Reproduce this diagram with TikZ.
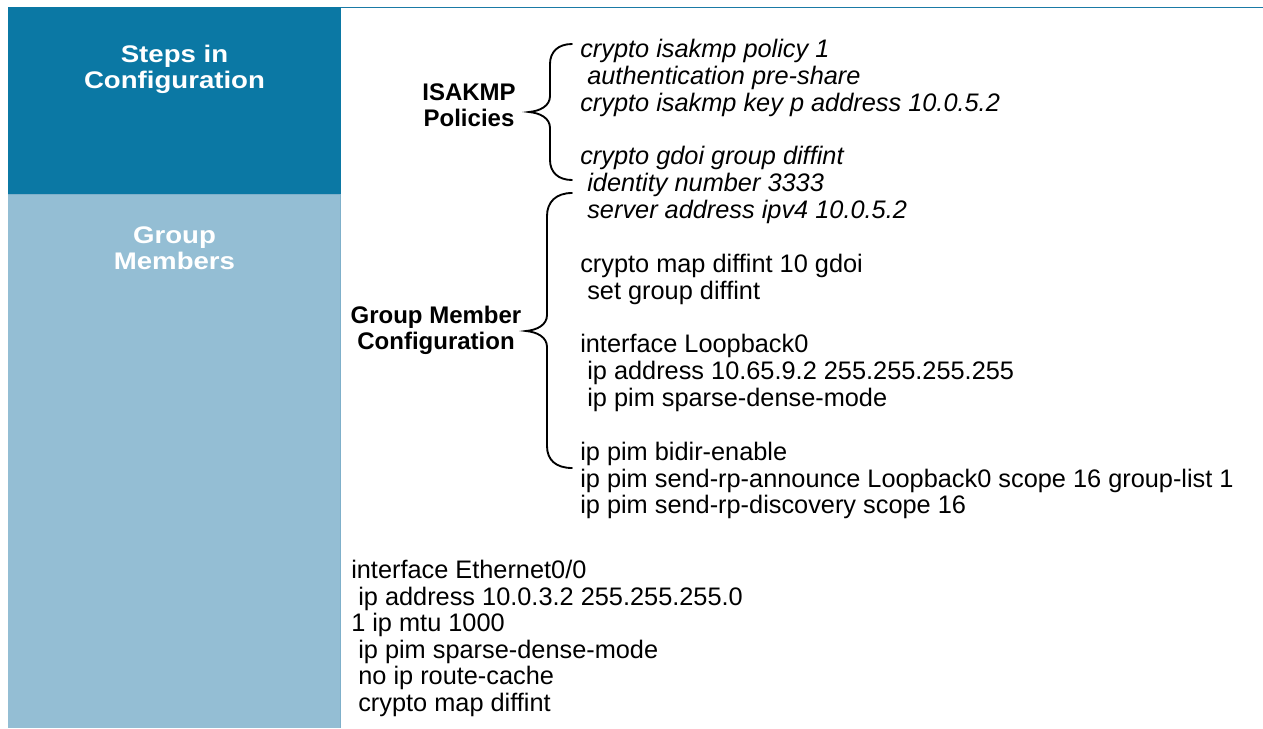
\documentclass[tikz,border=0pt]{standalone}
\usepackage{fontspec}
\setmainfont{Liberation Sans}
\newfontfamily\headfont[FakeStretch=1.15]{Liberation Sans}
\definecolor{darkblue}{HTML}{0B78A4}
\definecolor{lightblue}{HTML}{94BED4}
\definecolor{lightedge}{HTML}{7FB0CA}
\definecolor{topline}{HTML}{1A7AA6}
\tikzset{
  code/.style={anchor=base west, inner sep=0pt, font=\fontsize{19}{20}\selectfont},
  icode/.style={code, font=\fontsize{19}{20}\selectfont\itshape},
  head/.style={anchor=base, inner sep=0pt, text=white, font=\headfont\bfseries\fontsize{18}{20}\selectfont},
  lab/.style={anchor=base, inner sep=0pt, font=\bfseries\fontsize{18}{20}\selectfont},
  bracepath/.style={line width=1.4pt, line cap=round}
}
\newcommand{\ind}{\hspace*{0.278em}}
\begin{document}
\begin{tikzpicture}[x=0.75pt,y=-0.75pt]
\useasboundingbox (0,0) rectangle (1263,728);
% left column
\fill[darkblue] (8,7) rectangle (341,194);
\fill[lightblue] (8,194) rectangle (341,728);
\draw[lightedge, line width=0.6pt] (340.6,194) -- (340.6,728);
\draw[lightedge, line width=0.6pt] (8,194) -- (341,194);
\draw[topline, line width=1pt] (341,7.3) -- (1263,7.3);
% headers
\node[head] (h1) at (174.5,62.3) {Steps in};
\node[head] (h2) at (174.5,88.3) {Configuration};
\node[head] (h3) at (174.5,243) {Group};
\node[head] (h4) at (174.5,269.3) {Members};
% labels
\node[lab] (l1) at (469,100.5) {ISAKMP};
\node[lab] (l2) at (469,126.6) {Policies};
\node[lab] (l3) at (436,323) {Group Member};
\node[lab] (l4) at (436,349) {Configuration};
% braces
\draw[bracepath] (572,44) .. controls (558,44) and (550,52) .. (550,64) -- (550,96)
  .. controls (550,106) and (540,111) .. (529,112)
  .. controls (540,113) and (550,118) .. (550,128) -- (550,160)
  .. controls (550,172) and (558,180) .. (572,180);
\draw[bracepath] (572,193) .. controls (556,193) and (547,202) .. (547,216) -- (547,315)
  .. controls (547,325) and (537,330) .. (526,331)
  .. controls (537,332) and (547,337) .. (547,347) -- (547,446)
  .. controls (547,460) and (556,468) .. (572,468);
% code block
\node[icode] (c0) at (580,57.5) {crypto isakmp policy 1};
\node[icode] (c1) at (580,84.35) {\ind authentication pre-share};
\node[icode] (c2) at (580,111.2) {crypto isakmp key p address 10.0.5.2};
\node[icode] (c4) at (580,164.9) {crypto gdoi group diffint};
\node[icode] (c5) at (580,191.75) {\ind identity number 3333};
\node[icode] (c6) at (580,218.6) {\ind server address ipv4 10.0.5.2};
\node[code] (c8) at (580,272.3) {crypto map diffint 10 gdoi};
\node[code] (c9) at (580,299.15) {\ind set group diffint};
\node[code] (c11) at (580,352.85) {interface Loopback0};
\node[code] (c12) at (580,379.7) {\ind ip address 10.65.9.2 255.255.255.255};
\node[code] (c13) at (580,406.55) {\ind ip pim sparse-dense-mode};
\node[code] (c15) at (580,460.25) {ip pim bidir-enable};
\node[code] (c16) at (580,487.1) {ip pim send-rp-announce Loopback0 scope 16 group-list 1};
\node[code] (c17) at (580,513.95) {ip pim send-rp-discovery scope 16};
% bottom block
\node[code] (e0) at (351,578.5) {interface Ethernet0/0};
\node[code] (e1) at (351,605.1) {\ind ip address 10.0.3.2 255.255.255.0};
\node[code] (e2) at (351,631.7) {1 ip mtu 1000};
\node[code] (e3) at (351,658.3) {\ind ip pim sparse-dense-mode};
\node[code] (e4) at (351,684.9) {\ind no ip route-cache};
\node[code] (e5) at (351,711.5) {\ind crypto map diffint};
\end{tikzpicture}
\end{document}
